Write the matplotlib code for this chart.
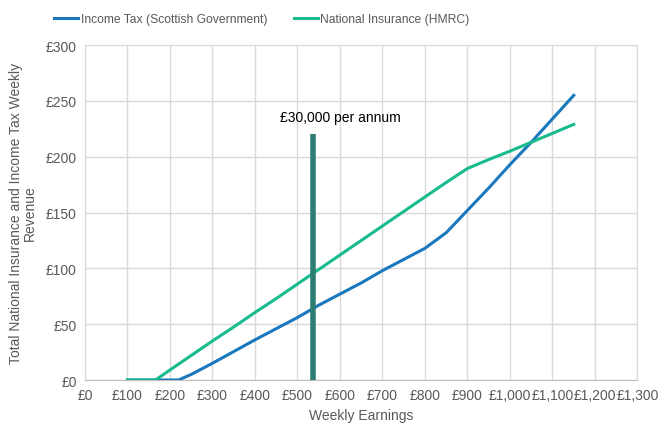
import numpy as np
import matplotlib.pyplot as plt
from matplotlib.ticker import FuncFormatter, MultipleLocator

plt.rcParams['font.family'] = ['Liberation Sans', 'DejaVu Sans']

# weekly earnings (GBP)
earnings = [100, 150, 200, 220, 250, 300, 350, 400, 450, 500, 550, 600, 650,
            700, 750, 800, 850, 900, 950, 1000, 1050, 1100, 1150]
income_tax = [0, 0, 0, 0, 5, 15, 25.5, 36, 46, 56, 67, 77, 87,
              98, 108, 118, 132, 152, 172, 193, 213, 234, 255]

ni_earnings = [100, 150, 166, 200, 250, 300, 350, 400, 450, 500, 550, 600, 650,
               700, 750, 800, 850, 900, 950, 1000, 1050, 1100, 1150]
national_ins = [0, 0, 0, 9, 22, 35, 47.5, 60.5, 73, 86, 99, 112, 125,
                138, 151, 164, 177, 189.5, 197.5, 205, 213, 221, 229]

marker_x = 537
marker_top = 220
marker_label = '£30,000 per annum'

blue = '#1a78be'
green = '#17bb8e'
grey = '#595959'

fig = plt.figure(figsize=(6.66, 4.31), dpi=100)
ax = fig.add_axes([0.1276, 0.116, 0.8296, 0.777])

ax.plot(earnings, income_tax, color=blue, lw=2.2, label='Income Tax (Scottish Government)', zorder=3)
ax.plot(ni_earnings, national_ins, color=green, lw=2.2, label='National Insurance (HMRC)', zorder=3)
ax.plot([marker_x, marker_x], [0, marker_top], color='#2e7d72', lw=4, solid_capstyle='butt', zorder=4)
ax.text(602, 236, marker_label, ha='center', va='center', fontsize=10, color='black')

ax.set_xlim(0, 1300)
ax.set_ylim(0, 300)
ax.xaxis.set_major_locator(MultipleLocator(100))
ax.yaxis.set_major_locator(MultipleLocator(50))
ax.xaxis.set_major_formatter(FuncFormatter(lambda v, p: '£{:,.0f}'.format(v)))
ax.yaxis.set_major_formatter(FuncFormatter(lambda v, p: '£{:,.0f}'.format(v)))
ax.grid(True, color='#d9d9d9', lw=1)
ax.set_axisbelow(True)
for s in ['top', 'left', 'right']:
    ax.spines[s].set_color('#d9d9d9')
ax.spines['bottom'].set_color('#bfbfbf')
ax.tick_params(length=0, labelsize=10, colors=grey, pad=6)

ax.set_xlabel('Weekly Earnings', fontsize=10, color=grey, labelpad=4)
ax.set_ylabel('Total National Insurance and Income Tax Weekly\nRevenue', fontsize=10,
              color=grey, linespacing=1.0, labelpad=6)

leg = fig.legend(loc='upper center', bbox_to_anchor=(0.393, 0.993), ncol=2, frameon=False,
                 fontsize=8.7, handlelength=2.0, handletextpad=0.2, columnspacing=2.2)
for t in leg.get_texts():
    t.set_color(grey)

fig.savefig('out.png', dpi=100)
